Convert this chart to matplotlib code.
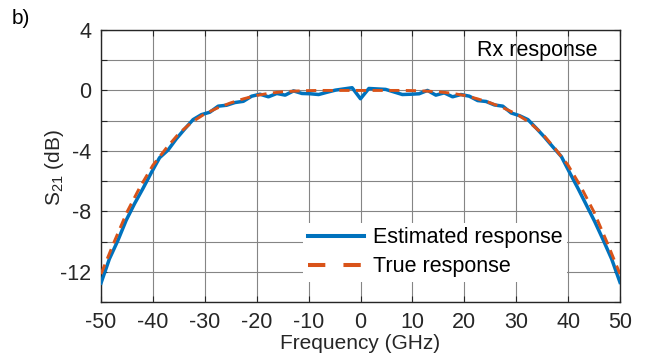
import numpy as np
import matplotlib
matplotlib.use("Agg")
import matplotlib.pyplot as plt
from matplotlib.lines import Line2D

plt.rcParams['font.family'] = ['Liberation Sans', 'DejaVu Sans']
plt.rcParams['axes.unicode_minus'] = False
plt.rcParams['mathtext.fontset'] = 'custom'
plt.rcParams['mathtext.rm'] = 'Liberation Sans'

# Estimated response: 63 samples from -50 to 50 GHz
freq_est = np.linspace(-50, 50, 63)
s21_est = [
    -12.75, -11.15, -9.95, -8.6, -7.5, -6.5, -5.45, -4.45, -3.95, -3.2,
    -2.55, -1.93, -1.6, -1.44, -1.04, -0.98, -0.8, -0.72, -0.38, -0.25,
    -0.42, -0.2, -0.31, -0.03, -0.2, -0.22, -0.27, -0.12, 0.02, 0.1,
    0.18, -0.55, 0.13, 0.1, 0.07, -0.1, -0.27, -0.25, -0.22, 0.0,
    -0.31, -0.16, -0.42, -0.27, -0.38, -0.67, -0.73, -0.96, -1.04, -1.49,
    -1.67, -1.93, -2.5, -3.1, -3.75, -4.38, -5.45, -6.5, -7.6, -8.7,
    -9.9, -11.15, -12.7,
]

# True response: every 2.5 GHz
freq_true = np.arange(-50, 50.1, 2.5)
s21_true = [
    -12.15, -10.05, -8.05, -6.4, -4.95, -3.85, -2.85, -2.1, -1.55, -1.15,
    -0.82, -0.55, -0.33, -0.18, -0.09, -0.04, -0.01, 0.0, 0.0, 0.0,
    0.0,
    0.0, 0.0, 0.0, -0.01, -0.04, -0.09, -0.18, -0.33, -0.55, -0.82,
    -1.15, -1.55, -2.1, -2.85, -3.85, -4.95, -6.4, -8.05, -10.05, -12.15,
]

xticks = [-50, -40, -30, -20, -10, 0, 10, 20, 30, 40, 50]
yticks = [-14, -12, -10, -8, -6, -4, -2, 0, 2, 4]
ytick_labels = ['', '-12', '', '-8', '', '-4', '', '0', '', '4']

blue = '#0072BD'
orange = '#D95319'
dark = '#262626'

fig = plt.figure(figsize=(6.47, 3.55), dpi=100)
ax = fig.add_axes([101/647, 1-302/355, 519/647, 272/355])

ax.plot(freq_est, s21_est, color=blue, lw=2.5, zorder=3)
ax.plot(freq_true, s21_true, color=orange, lw=2.1, ls=(0, (3.5, 2.2)), zorder=4)

ax.set_xlim(-50, 50)
ax.set_ylim(-14, 4)
ax.set_xticks(xticks)
ax.set_yticks(yticks)
ax.set_yticklabels(ytick_labels)
ax.grid(True, color='#858585', lw=0.8)
ax.set_axisbelow(True)
ax.tick_params(direction='in', top=True, right=True, labelsize=15.5,
               length=4, width=0.8, color=dark, labelcolor=dark)
ax.tick_params(axis='y', pad=7)
ax.tick_params(axis='x', pad=7)
for s in ax.spines.values():
    s.set_color(dark)
    s.set_linewidth(1.0)

ax.set_xlabel('Frequency (GHz)', fontsize=15, color=dark)
ax.xaxis.set_label_coords(0.5, -0.118)
ax.set_ylabel('S$_{\\mathregular{21}}$ (dB)', fontsize=15, color=dark)
ax.yaxis.set_label_coords(-0.068, 0.496)

ax.text(0.956, 0.926, 'Rx response', transform=ax.transAxes, ha='right', va='center',
        fontsize=15.5, color='black')

handles = [
    Line2D([], [], color=blue, lw=2.9),
    Line2D([], [], color=orange, lw=2.9, ls=(0, (4.3, 4.5))),
]
labels = ['Estimated response', 'True response']
leg = ax.legend(handles, labels, loc='lower left', bbox_to_anchor=(0.39, 0.075),
                fontsize=15.5, frameon=True, fancybox=False, borderpad=0.2,
                borderaxespad=0, handlelength=2.6, handletextpad=0.45,
                labelspacing=0.38)
leg.get_frame().set_facecolor('white')
leg.get_frame().set_edgecolor('none')
leg.get_frame().set_alpha(1)

fig.text(12/647, 1-19/355, 'b)', fontsize=15, va='center', ha='left', color='black')

fig.savefig('out.png', dpi=100)
